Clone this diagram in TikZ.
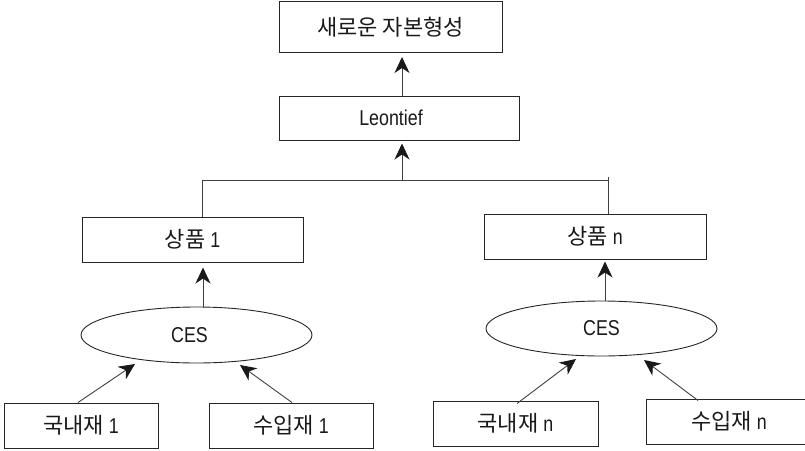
\documentclass[tikz,border=0pt]{standalone}
\usepackage{fontspec}
\setmainfont{Liberation Sans}[FakeStretch=0.83]
\newfontfamily\krfont{Noto Sans CJK KR}
\newcommand{\kr}[1]{{\krfont\fontsize{22}{24}\selectfont #1}}
\usetikzlibrary{arrows.meta,shapes.geometric}

\tikzset{
  box/.style={draw=black!85, line width=1pt, rectangle, inner sep=0pt,
    font=\fontsize{21.5}{24}\selectfont, text=black!90},
  oval/.style={draw=black!85, line width=0.9pt, ellipse, inner sep=0pt,
    font=\fontsize{21.5}{24}\selectfont, text=black!90},
  link/.style={draw=black!75, line width=0.9pt},
  arr/.style={link, -{Stealth[length=16pt, width=15pt, inset=5pt, color=black!90]}},
}

\begin{document}
\begin{tikzpicture}[x=1pt, y=-1pt]
\useasboundingbox (0,0) rectangle (805,450);

% upper chain
\node[box, minimum width=223pt, minimum height=51pt] (top) at (390.5,27) {\kr{새로운 자본형성}};
\node[box, minimum width=240pt, minimum height=44pt] (leon) at (399,118) {Leontief\hspace*{16pt}};

% goods
\node[box, minimum width=221pt, minimum height=45pt] (p1) at (192.5,239.5) {\kr{상품} 1};
\node[box, minimum width=222pt, minimum height=45pt] (pn) at (595,236.5) {\kr{상품} n};

% CES aggregators
\node[oval, minimum width=231pt, minimum height=56pt] (ces1) at (196.5,335) {CES\hspace*{14pt}};
\node[oval, minimum width=231pt, minimum height=55pt] (cesn) at (601.5,328.5) {CES};

% domestic and imported inputs
\node[box, minimum width=154pt, minimum height=45pt] (d1) at (81,425.5) {\kr{국내재} 1};
\node[box, minimum width=164pt, minimum height=45pt] (m1) at (291,425.5) {\kr{수입재} 1};
\node[box, minimum width=165pt, minimum height=45pt] (dn) at (515.5,423.5) {\kr{국내재} n};
\node[box, minimum width=166pt, minimum height=45pt] (mn) at (729,421.5) {\kr{수입재} n};

% guide coordinates for the connector columns
\coordinate (jn) at (402,180);
\coordinate (lt) at (202,180);
\coordinate (rt) at (608,177);
\coordinate (a1) at (203,0);
\coordinate (a2) at (605,0);

% bracket joining the two goods
\draw[link] (p1.north -| lt) -- (lt) -- (lt -| rt);
\draw[link] (rt) -- (pn.north -| rt);

% upward arrows
\draw[arr, shorten >=3pt] (jn) -- (leon.south -| jn);
\draw[arr, shorten >=4pt] (leon.north -| jn) -- (top.south -| jn);
\draw[arr, shorten >=5pt] (ces1.north -| a1) -- (p1.south -| a1);
\draw[arr, shorten >=2pt] (cesn.north -| a2) -- (pn.south -| a2);

% inputs into CES
\draw[arr] ([xshift=-3pt]d1.north) -- ([xshift=-61.5pt, yshift=-29pt]ces1.center);
\draw[arr] ([xshift=1pt]m1.north) -- ([xshift=43.5pt, yshift=-30pt]ces1.center);
\draw[arr] ([xshift=1.5pt, yshift=-3pt]dn.north) -- ([xshift=-25.5pt, yshift=-30.5pt]cesn.center);
\draw[arr] ([xshift=-31pt, yshift=-2pt]mn.north) -- ([xshift=42.5pt, yshift=-31.5pt]cesn.center);
\end{tikzpicture}
\end{document}
